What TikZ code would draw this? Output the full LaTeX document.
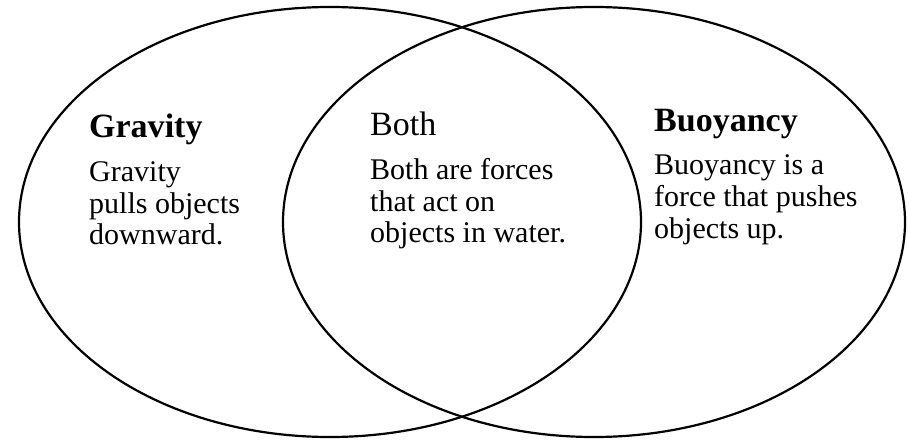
\documentclass[tikz,border=0pt]{standalone}
\usepackage{fontspec}
\setmainfont{Liberation Serif}
\usetikzlibrary{shapes.geometric}
\tikzset{
  set/.style={ellipse, draw=black, line width=2.2pt, minimum width=622pt, minimum height=430pt, inner sep=0pt},
  head/.style={anchor=base west, inner sep=0pt, font=\fontsize{34}{36}\selectfont},
  body/.style={anchor=base west, inner sep=0pt, align=left, font=\fontsize{30}{31.5}\selectfont}
}
\begin{document}
\begin{tikzpicture}[x=1pt,y=1pt]
\useasboundingbox (0,0) rectangle (909,442);
\node[set] (left) at (330,220) {};
\node[set] (right) at (594,220) {};
\node[head] (gh) at (89,304) {\bfseries Gravity};
\node[body] (gb) at (89,197) {Gravity\\pulls objects\\downward.};
\node[head] (bh) at (370,306) {Both};
\node[body] (bb) at (370,199) {Both are forces\\that act on\\objects in water.};
\node[head] (uh) at (654,310) {\bfseries Buoyancy};
\node[body] (ub) at (654,204) {Buoyancy is a\\force that pushes\\objects up.};
\end{tikzpicture}
\end{document}
